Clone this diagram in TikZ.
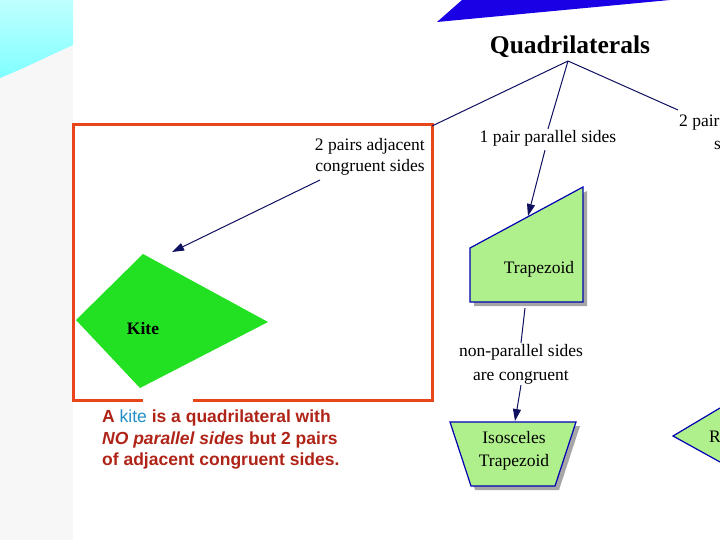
\documentclass[tikz,border=0pt]{standalone}
\usepackage{fontspec}
\setmainfont{Liberation Serif}
\newfontfamily\sansf{Liberation Sans}
\usetikzlibrary{arrows.meta}
\definecolor{ln}{HTML}{101060}
\definecolor{lg}{HTML}{B0F08C}
\definecolor{kg}{HTML}{22E022}
\definecolor{rb}{HTML}{E8461A}
\definecolor{tx}{HTML}{B02418}
\definecolor{kb}{HTML}{2090C8}
\tikzset{conn/.style={draw=ln,line width=1pt},
arr/.style={conn,-{Triangle[length=12pt,width=8pt]}},
lbl/.style={font=\fontsize{17.5}{21}\selectfont,align=center,inner sep=1pt},
shp/.style={fill=lg,draw=blue!70!black,line width=1.2pt},
shd/.style={fill=gray!70}}
\begin{document}
\begin{tikzpicture}[x=1pt,y=-1pt]
\useasboundingbox (0,0) rectangle (720,540);
\fill[white] (0,0) rectangle (720,540);
\fill[gray!6] (0,0) rectangle (73,540);
\shade[top color=cyan!25,bottom color=cyan!50] (0,0) -- (73,0) -- (73,45) .. controls (40,60) and (20,70) .. (0,78) -- cycle;
\fill[blue!80!violet] (437,22) -- (462,0) -- (670,0) -- cycle;
\node[font=\fontsize{25.5}{30}\selectfont\bfseries] (q) at (570,47) {Quadrilaterals};
\coordinate (qa) at (568,61);
% red box
\draw[rb,line width=3pt] (73,125) rectangle (432,400);
\fill[white] (143,398) rectangle (193,405);
% kite
\fill[kg] (143,254) -- (268,322) -- (140,388) -- (76,320) -- cycle;
\node[font=\fontsize{17.5}{21}\selectfont\bfseries] (kite) at (143,329) {Kite};
\coordinate (kt) at (172,252);
% labels
\node[lbl,align=right,anchor=east] (l1) at (426,157) {2 pairs adjacent\\congruent sides};
\node[lbl] (l2) at (548,138) {1 pair parallel sides};
\node[lbl,anchor=west] (l3) at (678,123) {2 pair};
\node[lbl,anchor=west] (l3b) at (713,145) {s};
\draw[conn] (qa) -- (432,126);
\draw[conn] (qa) -- (l2.north);
\draw[conn] (qa) -- (678,110);
\draw[arr] (320,180) -- (kt);
% trapezoid
\fill[shd] (474,252) -- (587,191) -- (587,306) -- (474,306) -- cycle;
\draw[shp] (470,248) -- (583,187) -- (583,302) -- (470,302) -- cycle;
\node[lbl] (trap) at (539,269) {Trapezoid};
\coordinate (tt) at (528,216);
\draw[arr] (l2.south) ++(-3,3) -- (tt);
\node[lbl,font=\fontsize{17.5}{24}\selectfont] (l4) at (521,364) {non-parallel sides\\are congruent};
\draw[conn] (525,308) -- (l4.north);
% isosceles
\fill[shd] (454,426) -- (580,426) -- (559,490) -- (475,490) -- cycle;
\draw[shp] (450,422) -- (576,422) -- (555,486) -- (471,486) -- cycle;
\node[lbl,font=\fontsize{17.5}{23}\selectfont] (iso) at (514,451) {Isosceles\\Trapezoid};
\coordinate (it) at (515,421);
\draw[arr] (l4.south) -- (it);
% right partial rhombus
\draw[shp] (720,408) -- (673,436) -- (720,462);
\node[lbl,anchor=west] (r) at (708,437) {R};
% text
\node[anchor=north west,align=left,inner sep=0pt,text=tx,
 font=\sansf\bfseries\fontsize{17.5}{21.5}\selectfont] (desc) at (102,410)
 {A \textcolor{kb}{\mdseries kite} is a quadrilateral with\\
  \textit{NO parallel sides} but 2 pairs\\
  of adjacent congruent sides.};
\end{tikzpicture}
\end{document}
